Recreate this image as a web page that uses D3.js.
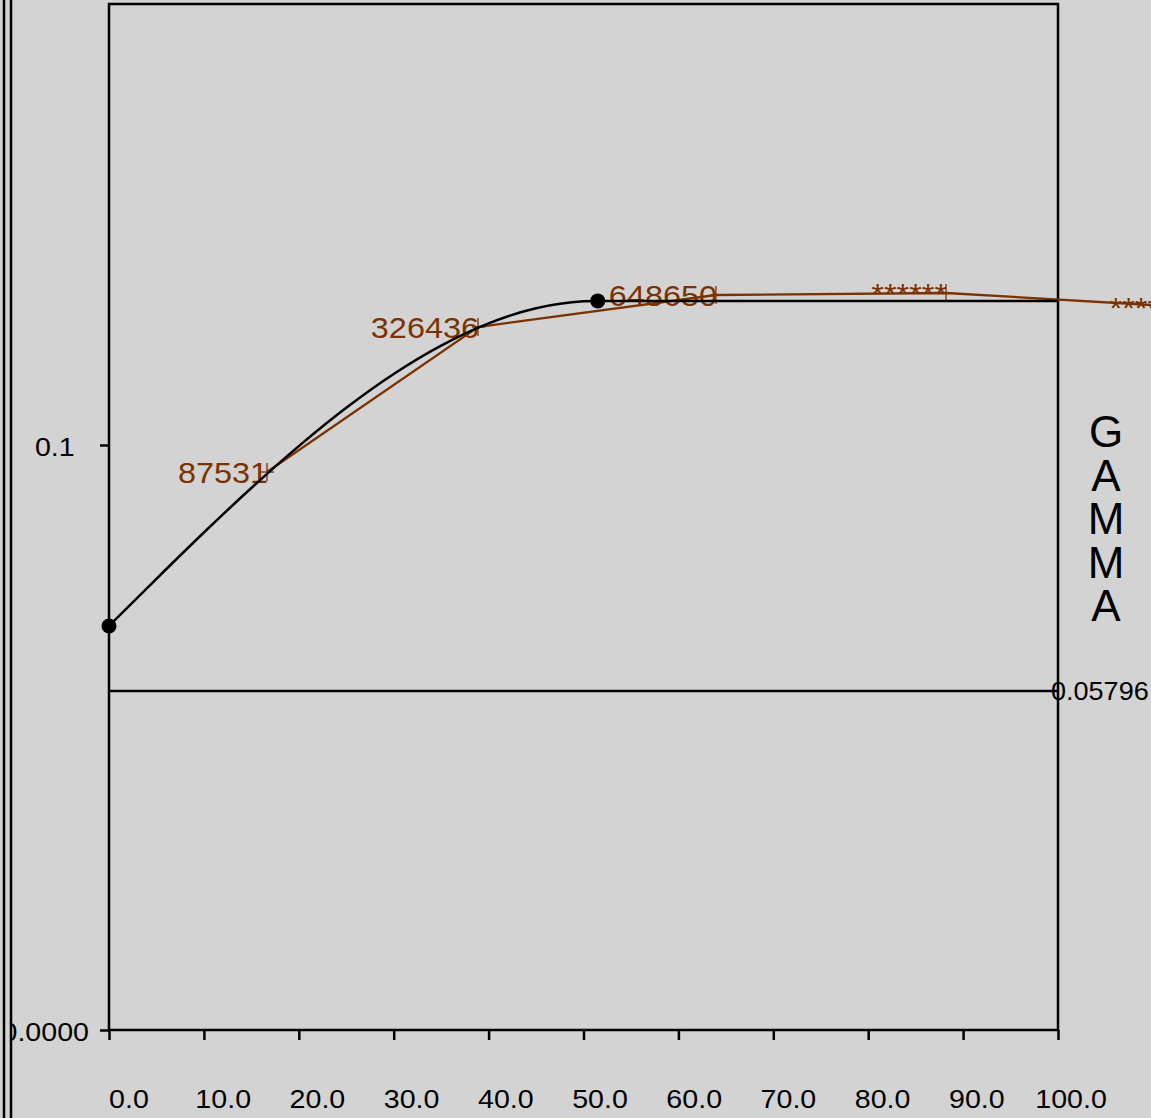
<!DOCTYPE html>
<html>
<head>
<meta charset="utf-8">
<script src="https://cdn.jsdelivr.net/npm/d3@7"></script>
<style>
  body { margin: 0; background: #d3d3d3; }
  svg { display: block; }
  text { font-family: "Liberation Sans", Arial, sans-serif; }
</style>
</head>
<body>
<div id="chart"></div>
<script>
// black fitted curve (x, gamma), flat after the second dot
var curveX = [0, 5, 10, 15, 20, 25, 30, 35, 40, 45, 50, 51.5, 100];
var curveY = [0.06906, 0.07713, 0.08504, 0.09265, 0.09981, 0.10636, 0.11214, 0.11699, 0.12079, 0.12337, 0.12456, 0.12463, 0.12463];
var dotX = [0, 51.5];
var dotY = [0.06906, 0.12463];

// brown observed line with labels
var obsX = [16.65, 38.88, 63.96, 88.2, 113.3];
var obsY = [0.09538, 0.12017, 0.12564, 0.12598, 0.1236];
var obsLabels = ["87531", "326436", "648650", "******", "******"];

// reference line
var refValue = 0.05796;
var refLabel = "0.05796";

// ticks
var xTicks = [0, 10, 20, 30, 40, 50, 60, 70, 80, 90, 100];
var xTickLabels = ["0.0", "10.0", "20.0", "30.0", "40.0", "50.0", "60.0", "70.0", "80.0", "90.0", "100.0"];
var yTicks = [0, 0.1];
var yTickLabels = ["0.0000", "0.1\u2002"];
var yTitle = "GAMMA";

function init() {

	var W = 1151, H = 1118;
	var bg = "#d3d3d3";
	var brown = "#7a3300";
	var stretch = 1.1;

	var svg = d3.select("#chart")
		.append("svg")
		.attr("width", W)
		.attr("height", H);

	var xScale = d3.scaleLinear().domain([0, 100]).range([109, 1058]);
	var xLab = d3.scaleLinear().domain([0, 100]).range([129, 1071]);
	var yScale = d3.scaleLinear().domain([0, 0.17538]).range([1030, 4]);

	// x axis ticks
	var xAxis = d3.axisBottom(xScale)
		.tickValues(xTicks)
		.tickSize(10)
		.tickFormat("");
	var gx = svg.append("g")
		.attr("transform", "translate(0," + yScale(0) + ")")
		.call(xAxis);
	gx.select(".domain").remove();
	gx.selectAll(".tick line").attr("stroke", "#000").attr("stroke-width", 2.5);

	// x labels (slightly wide glyphs)
	svg.selectAll("text.xlab")
		.data(xTicks)
		.enter()
		.append("text")
		.attr("class", "xlab")
		.attr("text-anchor", "middle")
		.attr("font-size", "26px")
		.attr("transform", function(d) {
			return "translate(" + xLab(d) + ",1108) scale(" + stretch + ",1)";
		})
		.text(function(d, i) { return xTickLabels[i]; });

	// y axis
	var yAxis = d3.axisLeft(yScale)
		.tickValues(yTicks)
		.tickSize(9)
		.tickFormat(function(d, i) { return yTickLabels[i]; });
	var gy = svg.append("g")
		.attr("transform", "translate(" + xScale(0) + ",0)")
		.call(yAxis);
	gy.select(".domain").remove();
	gy.selectAll(".tick line").attr("stroke", "#000").attr("stroke-width", 2.5);
	gy.selectAll(".tick text")
		.attr("x", null)
		.attr("dy", "0.42em")
		.attr("fill", "#000")
		.attr("font-size", "26px")
		.attr("font-family", "'Liberation Sans', Arial, sans-serif")
		.attr("transform", "translate(-20,0) scale(" + stretch + ",1)");

	// frame
	svg.append("rect")
		.attr("x", xScale(0))
		.attr("y", yScale.range()[1])
		.attr("width", xScale(100) - xScale(0))
		.attr("height", yScale(0) - yScale.range()[1])
		.attr("fill", "none")
		.attr("stroke", "#000")
		.attr("stroke-width", 2.5);

	// reference line
	svg.append("line")
		.attr("x1", xScale(0))
		.attr("x2", xScale(100))
		.attr("y1", yScale(refValue))
		.attr("y2", yScale(refValue))
		.attr("stroke", "#000")
		.attr("stroke-width", 2.5);
	svg.append("text")
		.attr("font-size", "26px")
		.attr("transform", "translate(1051," + (yScale(refValue) + 9.5) + ") scale(1.04,1)")
		.text(refLabel);

	// brown observed line
	var obs = obsX.map(function(d, i) { return { x: d, y: obsY[i], label: obsLabels[i] }; });
	var obsLine = d3.line()
		.x(function(d) { return xScale(d.x); })
		.y(function(d) { return yScale(d.y); });
	svg.append("path")
		.datum(obs)
		.attr("d", obsLine)
		.attr("fill", "none")
		.attr("stroke", brown)
		.attr("stroke-width", 2.3);

	// plus markers
	var mk = svg.selectAll("g.mk")
		.data(obs)
		.enter()
		.append("g")
		.attr("class", "mk")
		.attr("transform", function(d) {
			return "translate(" + xScale(d.x) + "," + yScale(d.y) + ")";
		});
	mk.append("line").attr("x1", 0).attr("x2", 0).attr("y1", -9).attr("y2", 9)
		.attr("stroke", brown).attr("stroke-width", 1.3);
	mk.append("line").attr("x1", -6).attr("x2", 7).attr("y1", 0).attr("y2", 0)
		.attr("stroke", brown).attr("stroke-width", 1.3);

	// brown labels
	svg.selectAll("text.obs")
		.data(obs)
		.enter()
		.append("text")
		.attr("class", "obs")
		.attr("text-anchor", "end")
		.attr("font-size", "30px")
		.attr("fill", brown)
		.attr("transform", function(d) {
			return "translate(" + (xScale(d.x) + 1) + "," + (yScale(d.y) + 11) + ") scale(1.08,1)";
		})
		.text(function(d) { return d.label; });

	// black fitted curve
	var fit = curveX.map(function(d, i) { return { x: d, y: curveY[i] }; });
	var fitLine = d3.line()
		.x(function(d) { return xScale(d.x); })
		.y(function(d) { return yScale(d.y); })
		.curve(d3.curveMonotoneX);
	svg.append("path")
		.datum(fit)
		.attr("d", fitLine)
		.attr("fill", "none")
		.attr("stroke", "#000")
		.attr("stroke-width", 2.5);

	svg.selectAll("circle")
		.data(dotX)
		.enter()
		.append("circle")
		.attr("cx", function(d) { return xScale(d); })
		.attr("cy", function(d, i) { return yScale(dotY[i]); })
		.attr("r", 7.5)
		.attr("fill", "#000");

	// vertical title
	svg.selectAll("text.title")
		.data(yTitle.split(""))
		.enter()
		.append("text")
		.attr("class", "title")
		.attr("text-anchor", "middle")
		.attr("font-size", "44px")
		.attr("x", 1106)
		.attr("y", function(d, i) { return 447 + i * 43.5; })
		.text(function(d) { return d; });

	// left border: covers the cut-off start of the bottom label
	svg.append("rect")
		.attr("x", 0).attr("y", 0)
		.attr("width", 12).attr("height", H)
		.attr("fill", bg);
	svg.selectAll("line.edge")
		.data([4, 11])
		.enter()
		.append("line")
		.attr("class", "edge")
		.attr("x1", function(d) { return d; })
		.attr("x2", function(d) { return d; })
		.attr("y1", 0)
		.attr("y2", H)
		.attr("stroke", "#000")
		.attr("stroke-width", 2.5);
}

window.onload = init;
</script>
</body>
</html>
